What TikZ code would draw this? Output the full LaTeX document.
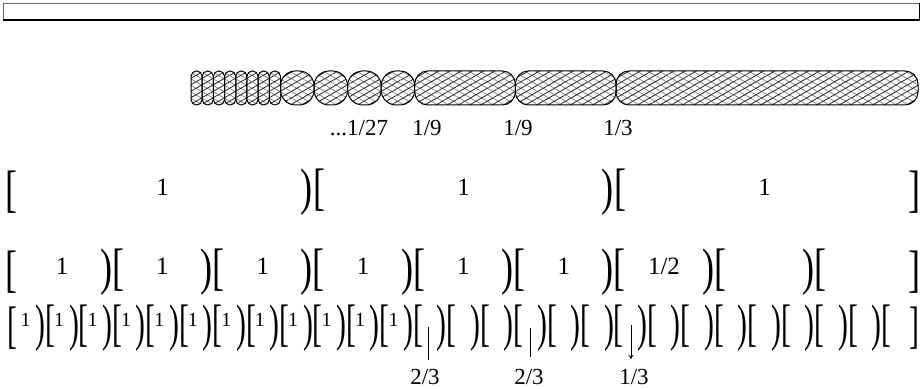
\documentclass[tikz,border=0pt]{standalone}
\usepackage{fontspec}
\setmainfont{Liberation Serif}
\usetikzlibrary{patterns.meta,arrows.meta}

\newcommand{\tallbr}[1]{\scalebox{0.95}[1.35]{#1}}
\newcommand{\thinbr}[1]{\scalebox{0.78}[1.35]{#1}}

\begin{document}
\begin{tikzpicture}[x=0.5pt,y=-0.5pt,
    brk/.style={inner sep=0pt,font=\fontsize{19}{19}\selectfont},
    one/.style={inner sep=0pt,font=\fontsize{12.5}{14}\selectfont},
    tiny one/.style={inner sep=0pt,font=\fontsize{10}{12}\selectfont},
    frac/.style={inner sep=0pt,font=\fontsize{11.5}{13}\selectfont},
    capsule/.style={preaction={pattern={Lines[angle=-30,distance=2.8pt,line width=0.4pt]},pattern color=black!45},
        pattern={Lines[angle=30,distance=2.8pt,line width=0.4pt]},pattern color=black!85,
        draw=black,line width=0.5pt},
    ]
  \useasboundingbox (0,0) rectangle (921,389);

  % empty bar on top
  \node[draw=black!60,line width=0.4pt,minimum width=458pt,minimum height=8.5pt,inner sep=0pt] (bar) at (461,11.5) {};
  \draw[line width=0.9pt] (bar.south west) -- (bar.south east) -- (bar.north east);

  % capsules: 8 x L/27, 4 x L/9, 2 x L/3, 1 x L
  \foreach \k in {0,...,7}
    \draw[capsule,rounded corners=2.7pt] ({191+11.19*\k},71) rectangle ++(11.19,34);
  \foreach \k in {0,...,3}
    \draw[capsule,rounded corners=7.5pt] ({280.5+33.56*\k},71) rectangle ++(33.56,34);
  \foreach \k in {0,1}
    \draw[capsule,rounded corners=6.5pt] ({414.7+100.67*\k},71) rectangle ++(100.67,34);
  \draw[capsule,rounded corners=6.5pt] (616,71) rectangle (918,105);

  \node[frac] (w27) at (359,128) {...1/27};
  \node[frac] (w9a) at (427,128) {1/9};
  \node[frac] (w9b) at (518,128) {1/9};
  \node[frac] (w3) at (618,128) {1/3};

  % row 1
  \foreach \i in {0,...,3}
    \node[brk] (a\i) at ({12+301*\i},192.5) {\tallbr{\ifnum\i=0 [\else\ifnum\i=3 ]\else )[\fi\fi}};
  \foreach \i in {0,1,2}
    \node[one] (na\i) at ({12+301*(\i+0.5)},187.5) {1};

  % row 2
  \foreach \i in {0,...,9}
    \node[brk] (b\i) at ({12+100.33*\i},272) {\tallbr{\ifnum\i=0 [\else\ifnum\i=9 ]\else )[\fi\fi}};
  \foreach \i in {0,...,5}
    \node[one] (nb\i) at ({12+100.33*(\i+0.5)},266) {1};
  \node[one] (nb6) at (664,266) {1/2};

  % row 3
  \foreach \i in {0,...,27}
    \node[brk] (c\i) at ({12+33.44*\i},328) {\thinbr{\ifnum\i=0 [\else\ifnum\i=27 ]\else )[\fi\fi}};
  \foreach \i in {0,...,11}
    \node[tiny one] (nc\i) at ({12+33.44*(\i+0.5)-3},320) {1};

  % marks under row 3
  \coordinate (m1) at (428,327);
  \coordinate (m2) at (530,328);
  \coordinate (m3) at (631,325);
  \node[frac,anchor=north] (f1) at (425,369) {2/3};
  \node[frac,anchor=north] (f2) at (529,369) {2/3};
  \node[frac,anchor=north] (f3) at (634,369) {1/3};

  \draw[line width=0.4pt] (m1) -- ([yshift=4.5pt]f1.north -| m1);
  \draw[line width=0.4pt] (m2) -- ([yshift=6pt]f2.north -| m2);
  \draw[line width=0.4pt,-{To[length=2pt,width=2.5pt]}] (m3) -- ([yshift=5pt]f3.north -| m3);
\end{tikzpicture}
\end{document}
